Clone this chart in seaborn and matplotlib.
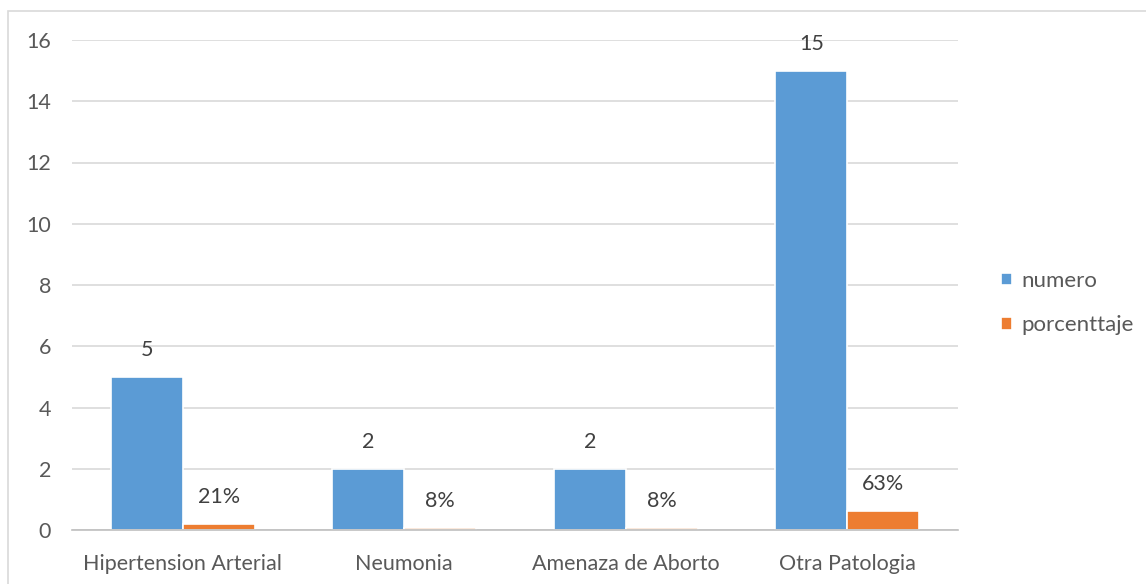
import matplotlib
matplotlib.use("Agg")
import matplotlib.pyplot as plt
from matplotlib.patches import Rectangle
import seaborn as sns
import pandas as pd

# Data
categorias = ["Hipertension Arterial", "Neumonia", "Amenaza de Aborto", "Otra Patologia"]
numero = [5, 2, 2, 15]
porcentaje = [0.21, 0.08, 0.08, 0.63]
series = ["numero", "porcenttaje"]
colores = ["#5B9BD5", "#ED7D31"]
y_ticks = [0, 2, 4, 6, 8, 10, 12, 14, 16]

df = pd.DataFrame({
    "categoria": categorias * 2,
    "valor": numero + porcentaje,
    "serie": [series[0]] * len(categorias) + [series[1]] * len(categorias),
})

sns.set_theme(style="white")
plt.rcParams["font.family"] = ["Lato", "DejaVu Sans"]

fig = plt.figure(figsize=(11.46, 5.84), dpi=100)
ax = fig.add_axes([72 / 1146, 1 - 530 / 584, (958 - 72) / 1146, (530 - 40) / 584])

sns.barplot(data=df, x="categoria", y="valor", hue="serie", order=categorias,
            hue_order=series, palette=colores, width=0.65, saturation=1,
            edgecolor="white", linewidth=1.2, ax=ax, legend=True)

# Value labels
etiquetas = [[str(v) for v in numero], [f"{round(p * 100)}%" for p in porcentaje]]
for cont, labs in zip(ax.containers, etiquetas):
    ax.bar_label(cont, labels=labs, padding=12, fontsize=15.5, color="#404040")

ax.set_ylim(0, 16)
ax.set_xlim(-0.5, 3.5)
ax.set_yticks(y_ticks)
ax.yaxis.grid(True, color="#D9D9D9", linewidth=1.2)
ax.set_axisbelow(True)
ax.set_xlabel("")
ax.set_ylabel("")
for side in ["top", "right", "left"]:
    ax.spines[side].set_visible(False)
ax.spines["bottom"].set_color("#BFBFBF")
ax.spines["bottom"].set_linewidth(1.2)

ax.tick_params(axis="y", length=0, pad=15, labelsize=15.5, labelcolor="#595959")
ax.tick_params(axis="x", which="major", length=0, pad=17, labelsize=15.5, labelcolor="#595959")
ax.set_xticks([-0.5, 0.5, 1.5, 2.5, 3.5], minor=True)
ax.tick_params(axis="x", which="minor", length=4.5, width=1.2, color="#BFBFBF", direction="out")

# Legend
handles, labels = ax.get_legend_handles_labels()
ax.legend(handles, labels, loc="center left", bbox_to_anchor=(981 / 1146, 1 - 303 / 584),
          bbox_transform=fig.transFigure, frameon=False, fontsize=16,
          handlelength=0.5, handleheight=0.5, handletextpad=0.4,
          labelspacing=1.1, labelcolor="#595959")

# Chart area border
fig.patches.append(Rectangle((8 / 1146, -0.1), 1.2, 1 - 11 / 584 + 0.1,
                             transform=fig.transFigure, fill=False,
                             edgecolor="#D9D9D9", linewidth=1.2, zorder=0))

fig.savefig("out.png", dpi=100)
